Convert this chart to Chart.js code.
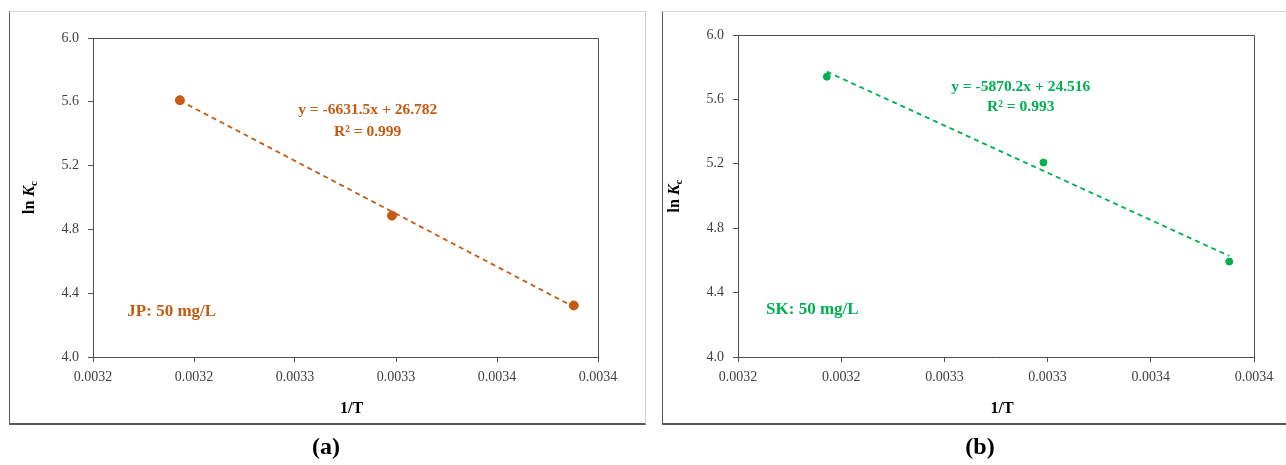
<!DOCTYPE html>
<html>
<head>
<meta charset="utf-8">
<script src="https://cdn.jsdelivr.net/npm/chart.js@4.4.0/dist/chart.umd.min.js"></script>
<style>
  body { margin: 0; background: #fff; width: 1286px; height: 465px; overflow: hidden; position: relative; }
  .panel { position: absolute; top: 11px; height: 411px; border-top: 1px solid #d9d9d9; border-left: 1px solid #595959; border-bottom: 2px solid #595959; border-right: 1px solid #d0d0d0; }
  #boxA { left: 9px; width: 635px; }
  #boxB { left: 662px; width: 640px; border-right: none; }
  canvas { position: absolute; top: 0; }
  .cap { position: absolute; top: 433px; width: 60px; text-align: center; font: bold 24px "Liberation Serif", serif; color: #000; }
</style>
</head>
<body>
<div class="panel" id="boxA"></div>
<div class="panel" id="boxB"></div>
<canvas id="chartA" width="650" height="465" style="left:0"></canvas>
<canvas id="chartB" width="636" height="465" style="left:650px"></canvas>
<div class="cap" style="left:296px">(a)</div>
<div class="cap" style="left:950px">(b)</div>
<script>
// x axis: 1/T, tick labels as printed (4 decimals)
const xTicks = [0.00315, 0.0032, 0.00325, 0.0033, 0.00335, 0.0034];
const xTickLabels = ["0.0032", "0.0032", "0.0033", "0.0033", "0.0034", "0.0034"];
const invT = [0.003193, 0.003298, 0.003388];

// ln Kc values
const lnKcJP = [5.61, 4.886, 4.323];
const lnKcSK = [5.741, 5.208, 4.593];

// linear fits shown on the chart
const fitSlope = [-6631.5, -5870.2];
const fitIntercept = [26.782, 24.516];
const fitR2 = ["0.999", "0.993"];
const sampleNames = ["JP: 50 mg/L", "SK: 50 mg/L"];

const axisColor = "#505050";
const tickFont = { family: "Liberation Serif", size: 14 };

Chart.register({
  id: "panelText",
  beforeDatasetsDraw(chart) {
    const { ctx, chartArea } = chart;
    ctx.save();
    ctx.strokeStyle = axisColor;
    ctx.lineWidth = 1;
    ctx.beginPath();
    ctx.moveTo(chartArea.left, chartArea.top + 0.5);
    ctx.lineTo(chartArea.right + 0.5, chartArea.top + 0.5);
    ctx.lineTo(chartArea.right + 0.5, chartArea.bottom);
    ctx.stroke();
    ctx.restore();
  },
  afterDraw(chart, args, opts) {
    const { ctx, chartArea, scales } = chart;
    const x = scales.x, y = scales.y;
    ctx.save();
    ctx.fillStyle = opts.color;
    ctx.textBaseline = "middle";

    // equation + R2
    ctx.font = "bold 15.5px 'Liberation Serif'";
    ctx.textAlign = "center";
    const ex = x.getPixelForValue(opts.eqAt[0]);
    ctx.fillText(opts.eq, ex, y.getPixelForValue(opts.eqAt[1]));
    ctx.fillText(opts.r2, ex, y.getPixelForValue(opts.r2At));

    // sample label
    ctx.font = "bold 17px 'Liberation Serif'";
    ctx.textAlign = "left";
    ctx.fillText(opts.name, x.getPixelForValue(opts.nameAt[0]), y.getPixelForValue(opts.nameAt[1]));

    // axis titles
    ctx.fillStyle = "#000";
    ctx.textAlign = "center";
    ctx.font = "bold 16px 'Liberation Serif'";
    ctx.fillText("1/T", (chartArea.left + chartArea.right) / 2 + 6, 409);

    const cx = chartArea.left - 63, cy = (chartArea.top + chartArea.bottom) / 2;
    ctx.translate(cx, cy);
    ctx.rotate(-Math.PI / 2);
    ctx.textAlign = "left";
    const p1 = "ln ", p2 = "K", p3 = "c";
    ctx.font = "bold 16px 'Liberation Serif'";
    const w1 = ctx.measureText(p1).width;
    ctx.font = "italic bold 16px 'Liberation Serif'";
    const w2 = ctx.measureText(p2).width;
    ctx.font = "bold 11px 'Liberation Serif'";
    const w3 = ctx.measureText(p3).width;
    let sx = -(w1 + w2 + w3) / 2;
    ctx.font = "bold 16px 'Liberation Serif'";
    ctx.fillText(p1, sx, 0);
    sx += w1;
    ctx.font = "italic bold 16px 'Liberation Serif'";
    ctx.fillText(p2, sx, 0);
    sx += w2;
    ctx.font = "bold 11px 'Liberation Serif'";
    ctx.fillText(p3, sx, 4);
    ctx.restore();
  }
});

function makePanel(id, idx, values, color, box, cw, radius, text) {
  const trend = [invT[0], invT[invT.length - 1]].map(v => ({ x: v, y: fitSlope[idx] * v + fitIntercept[idx] }));
  const yW = 50, xH = 40;
  return new Chart(document.getElementById(id), {
    type: "scatter",
    data: {
      datasets: [
        {
          type: "line",
          data: trend,
          borderColor: color,
          borderWidth: 1.8,
          borderDash: [5, 4],
          pointRadius: 0,
          fill: false
        },
        {
          data: invT.map((v, i) => ({ x: v, y: values[i] })),
          backgroundColor: color,
          borderColor: color,
          pointRadius: radius,
          pointHoverRadius: radius
        }
      ]
    },
    options: {
      responsive: false,
      animation: false,
      layout: {
        padding: { left: box.left - yW, right: cw - box.right, top: box.top, bottom: 465 - box.bottom - xH }
      },
      scales: {
        x: {
          type: "linear",
          min: xTicks[0],
          max: xTicks[xTicks.length - 1],
          afterBuildTicks: s => { s.ticks = xTicks.map(v => ({ value: v })); },
          afterFit: s => { s.height = xH; },
          grid: { drawOnChartArea: false, drawTicks: true, tickLength: 5, color: axisColor },
          border: { display: true, color: axisColor, width: 1 },
          ticks: { font: tickFont, color: "#404040", padding: 7, maxRotation: 0, callback: (v, i) => xTickLabels[i] }
        },
        y: {
          min: 4.0,
          max: 6.0,
          afterFit: s => { s.width = yW; },
          grid: { drawOnChartArea: false, drawTicks: true, tickLength: 5, color: axisColor },
          border: { display: true, color: axisColor, width: 1 },
          ticks: { stepSize: 0.4, font: tickFont, color: "#404040", padding: 9, callback: v => v.toFixed(1) }
        }
      },
      plugins: {
        legend: { display: false },
        tooltip: { enabled: false },
        panelText: Object.assign({ color: color }, text)
      }
    }
  });
}

makePanel("chartA", 0, lnKcJP, "#C55A11", { left: 93, right: 598, top: 38, bottom: 357 }, 650, 4.5, {
  eq: "y = " + fitSlope[0] + "x + " + fitIntercept[0],
  r2: "R\u00b2 = " + fitR2[0],
  name: sampleNames[0],
  eqAt: [0.003286, 5.548],
  r2At: 5.41,
  nameAt: [0.003167, 4.285]
});

makePanel("chartB", 1, lnKcSK, "#00B050", { left: 88, right: 604, top: 35, bottom: 357 }, 636, 3.5, {
  eq: "y = " + fitSlope[1] + "x + " + fitIntercept[1],
  r2: "R\u00b2 = " + fitR2[1],
  name: sampleNames[1],
  eqAt: [0.003287, 5.677],
  r2At: 5.553,
  nameAt: [0.0031636, 4.294]
});
</script>
</body>
</html>
